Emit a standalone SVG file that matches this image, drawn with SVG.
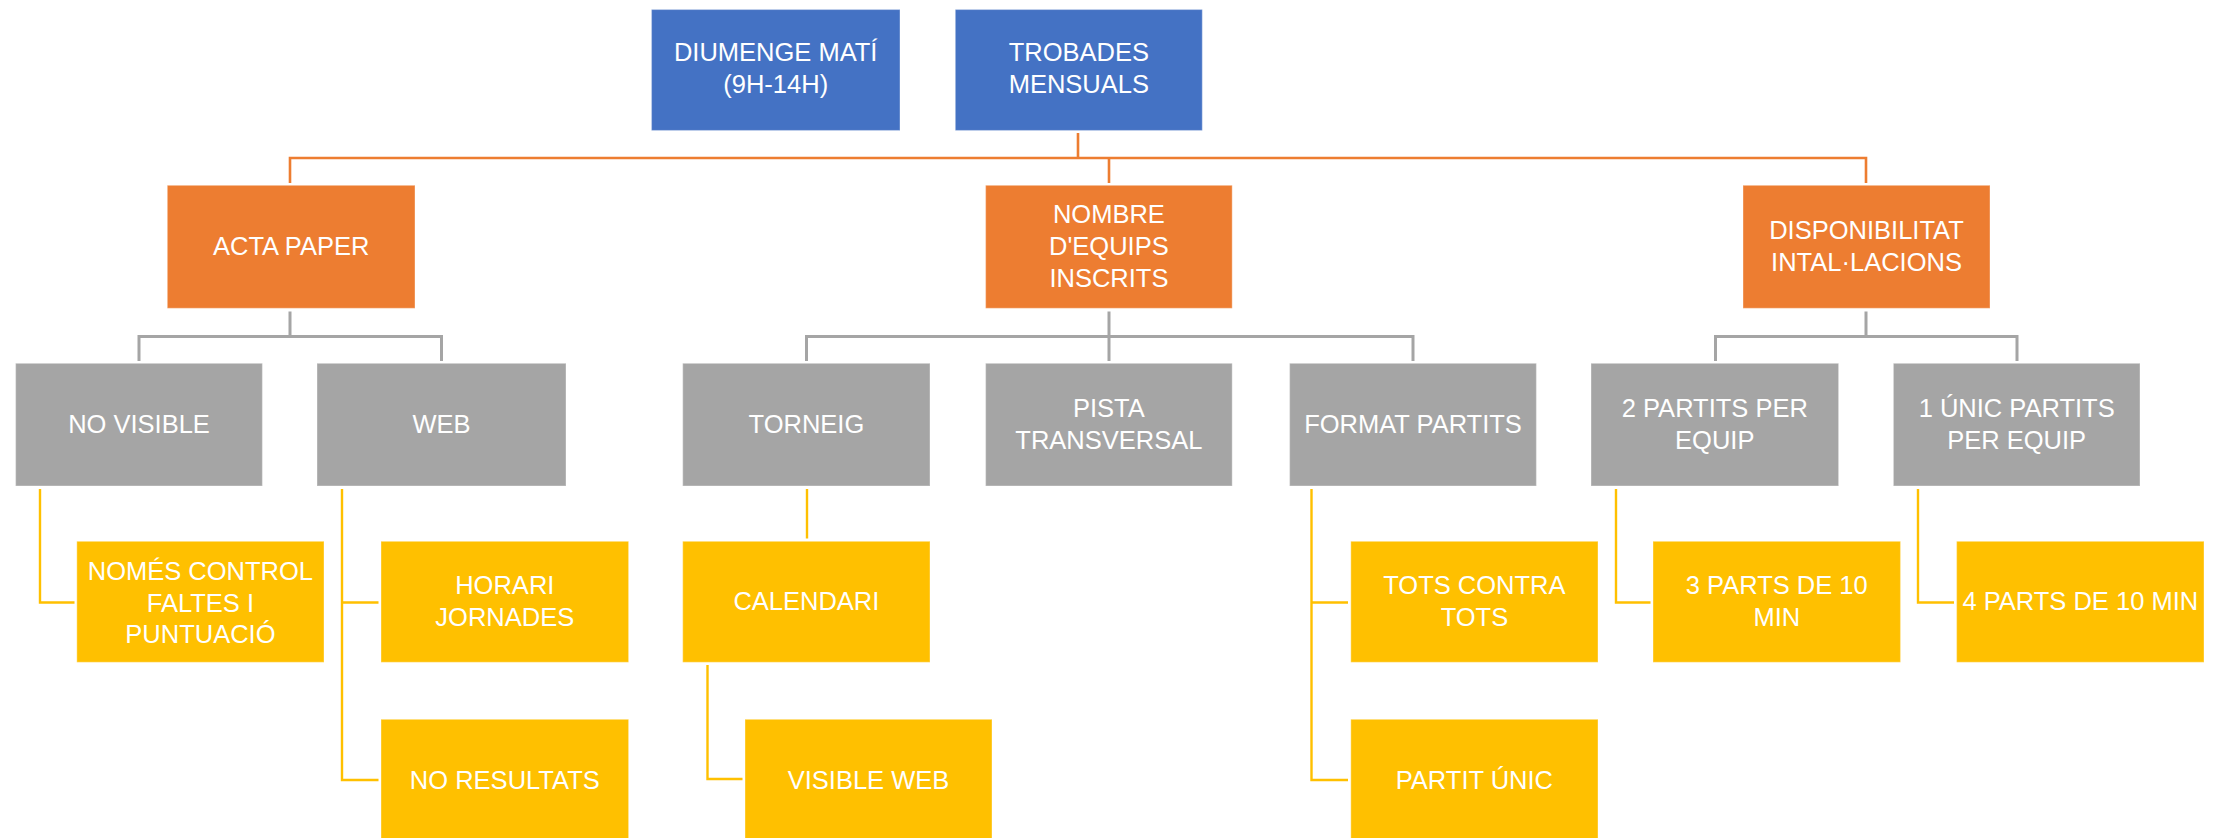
<svg xmlns="http://www.w3.org/2000/svg" width="2229" height="838" viewBox="0 0 2229 838">
<style>
.box{stroke:#ffffff;stroke-opacity:.3;stroke-width:1.2}
.blue{fill:#4472C4}
.orange{fill:#ED7D31}
.gray{fill:#A5A5A5}
.yellow{fill:#FFC000}
text{font-family:"Liberation Sans",Arial,sans-serif;font-size:25.5px;fill:#ffffff;text-anchor:middle}
.c{fill:none;stroke-linejoin:miter;stroke-linecap:butt}
.co{stroke:#ED7D31;stroke-width:2.6}
.cg{stroke:#A5A5A5;stroke-width:3}
.cy{stroke:#FFC000;stroke-width:2.4}
</style>
<rect width="2229" height="838" fill="#ffffff"/>
<g id="connectors">
<path class="c co" d="M1078 133 V158 M290 183 V158 H1866 V183 M1109 158 V183"/>
<path class="c cg" d="M290 311.5 V336.5 M139 361 V336.5 H441.5 V361"/>
<path class="c cg" d="M1109 311.5 V361 M806.5 361 V336.5 H1413 V361"/>
<path class="c cg" d="M1866 311.5 V336.5 M1715.5 361 V336.5 H2017 V361"/>
<path class="c cy" d="M40 489 V602.5 H74.5"/>
<path class="c cy" d="M342 489 V780 H378.5 M342 602.5 H378.5"/>
<path class="c cy" d="M807 489 V538.5"/>
<path class="c cy" d="M707.5 665 V779 H742.5"/>
<path class="c cy" d="M1311.5 489 V780 H1348 M1311.5 602.5 H1348"/>
<path class="c cy" d="M1616 489 V602.5 H1650.5"/>
<path class="c cy" d="M1918 489 V602.5 H1954"/>
</g>
<g id="n-diumenge"><rect class="box blue" x="651.5" y="9.5" width="248.5" height="121"/><text x="775.7" y="61">DIUMENGE MATÍ</text><text x="775.7" y="92.7">(9H-14H)</text></g>
<g id="n-trobades"><rect class="box blue" x="955.3" y="9.5" width="247" height="121"/><text x="1078.8" y="61">TROBADES</text><text x="1078.8" y="92.7">MENSUALS</text></g>
<g id="n-acta"><rect class="box orange" x="167.3" y="185.3" width="247.7" height="123"/><text x="291.2" y="255">ACTA PAPER</text></g>
<g id="n-nombre"><rect class="box orange" x="985.6" y="185.3" width="246.6" height="123"/><text x="1108.9" y="223.1">NOMBRE</text><text x="1108.9" y="254.8">D'EQUIPS</text><text x="1108.9" y="286.5">INSCRITS</text></g>
<g id="n-disp"><rect class="box orange" x="1743" y="185.3" width="247" height="123"/><text x="1866.5" y="239">DISPONIBILITAT</text><text x="1866.5" y="270.6">INTAL·LACIONS</text></g>
<g id="n-novisible"><rect class="box gray" x="15.6" y="363.3" width="246.8" height="122.7"/><text x="139" y="432.7">NO VISIBLE</text></g>
<g id="n-web"><rect class="box gray" x="317" y="363.3" width="249" height="122.7"/><text x="441.5" y="432.7">WEB</text></g>
<g id="n-torneig"><rect class="box gray" x="682.7" y="363.3" width="247.3" height="122.7"/><text x="806.4" y="432.7">TORNEIG</text></g>
<g id="n-pista"><rect class="box gray" x="985.6" y="363.3" width="246.6" height="122.7"/><text x="1108.9" y="416.8">PISTA</text><text x="1108.9" y="448.5">TRANSVERSAL</text></g>
<g id="n-format"><rect class="box gray" x="1289.6" y="363.3" width="246.8" height="122.7"/><text x="1413" y="432.7">FORMAT PARTITS</text></g>
<g id="n-2partits"><rect class="box gray" x="1591" y="363.3" width="247.6" height="122.7"/><text x="1714.8" y="416.8">2 PARTITS PER</text><text x="1714.8" y="448.5">EQUIP</text></g>
<g id="n-1unic"><rect class="box gray" x="1893.4" y="363.3" width="246.6" height="122.7"/><text x="2016.7" y="416.8">1 ÚNIC PARTITS</text><text x="2016.7" y="448.5">PER EQUIP</text></g>
<g id="n-nomes"><rect class="box yellow" x="76.8" y="541.3" width="247.2" height="121"/><text x="200.4" y="580">NOMÉS CONTROL</text><text x="200.4" y="611.7">FALTES I</text><text x="200.4" y="643.4">PUNTUACIÓ</text></g>
<g id="n-horari"><rect class="box yellow" x="381" y="541.3" width="247.6" height="121"/><text x="504.8" y="594.2">HORARI</text><text x="504.8" y="625.9">JORNADES</text></g>
<g id="n-calendari"><rect class="box yellow" x="682.7" y="541.3" width="247.3" height="121"/><text x="806.4" y="610">CALENDARI</text></g>
<g id="n-tots"><rect class="box yellow" x="1350.8" y="541.3" width="247.2" height="121"/><text x="1474.4" y="594.2">TOTS CONTRA</text><text x="1474.4" y="625.9">TOTS</text></g>
<g id="n-3parts"><rect class="box yellow" x="1653" y="541.3" width="247.5" height="121"/><text x="1776.8" y="594.2">3 PARTS DE 10</text><text x="1776.8" y="625.9">MIN</text></g>
<g id="n-4parts"><rect class="box yellow" x="1956.6" y="541.3" width="247.4" height="121"/><text x="2080.3" y="610">4 PARTS DE 10 MIN</text></g>
<g id="n-noresultats"><rect class="box yellow" x="381" y="719.3" width="247.6" height="122"/><text x="504.8" y="788.5">NO RESULTATS</text></g>
<g id="n-visibleweb"><rect class="box yellow" x="745" y="719.3" width="247" height="122"/><text x="868.5" y="788.5">VISIBLE WEB</text></g>
<g id="n-partitunic"><rect class="box yellow" x="1350.8" y="719.3" width="247.2" height="122"/><text x="1474.4" y="788.5">PARTIT ÚNIC</text></g>
</svg>
